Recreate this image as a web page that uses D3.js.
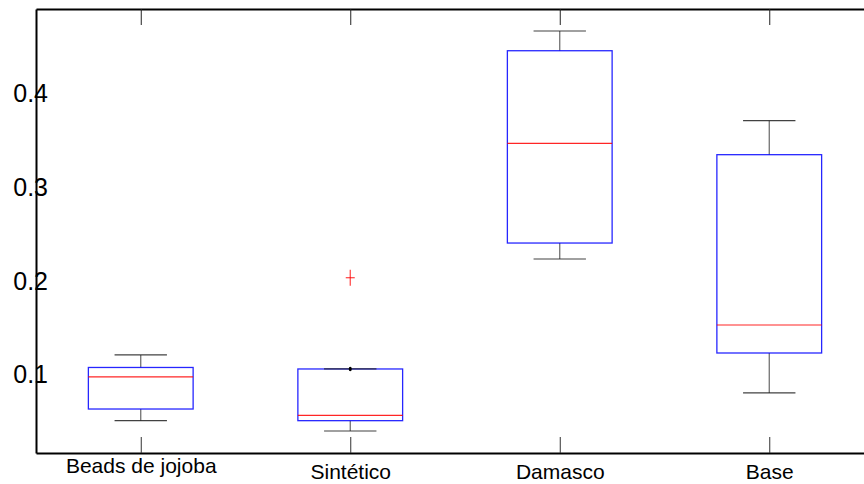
<!DOCTYPE html>
<html>
<head>
<meta charset="utf-8">
<script src="https://cdn.jsdelivr.net/npm/d3@7"></script>
<style>
  html, body { margin: 0; padding: 0; background: #fff; }
  svg { display: block; }
  text { font-family: "Liberation Sans", Arial, Helvetica, sans-serif; fill: #000; }
</style>
</head>
<body>
<svg id="chart" width="864" height="484"></svg>
<script>
// ---- data ----
const categories   = ["Beads de jojoba", "Sintético", "Damasco", "Base"];
const whiskerLow   = [0.0514, 0.0404, 0.2234, 0.0809];
const q1           = [0.0638, 0.0514, 0.2404, 0.1234];
const medians      = [0.0979, 0.0571, 0.3464, 0.1532];
const q3           = [0.1080, 0.1064, 0.4450, 0.3344];
const whiskerHigh  = [0.1213, 0.1064, 0.4660, 0.3706];
const outlierCategory = ["Sintético"];
const outlierValues   = [0.2035];
const yTicks = [0.1, 0.2, 0.3, 0.4];
const yDomain = [0.017, 0.4894];

// ---- layout ----
const svg = d3.select("#chart");
const mLeft = 36, mTop = 9, mBottom = 453, mRightEdge = 874;

const x = d3.scaleLinear().domain([0.5, categories.length + 0.5]).range([mLeft, mRightEdge]);
const y = d3.scaleLinear().domain(yDomain).range([mBottom, mTop]);
const xi = i => x(i + 1);
const boxHalf = 0.25, capHalf = 0.125;
const bw = x(1 + boxHalf) - x(1);
const cw = x(1 + capHalf) - x(1);

// top tick axis (no labels)
const topAxis = svg.append("g").attr("transform", `translate(0,${mTop})`)
  .call(d3.axisTop(x).tickValues(d3.range(1, categories.length + 1)).tickSize(-16).tickSizeOuter(0).tickFormat(""));
topAxis.select(".domain").attr("stroke", "#000").attr("stroke-width", 2);
topAxis.selectAll(".tick line").attr("stroke", "#222").attr("stroke-width", 1);

// bottom axis
const botAxis = svg.append("g").attr("transform", `translate(0,${mBottom})`)
  .call(d3.axisBottom(x).tickValues(d3.range(1, categories.length + 1))
    .tickSize(-16).tickSizeOuter(0).tickPadding(10)
    .tickFormat(d => categories[d - 1]));
botAxis.select(".domain").attr("stroke", "#000").attr("stroke-width", 2);
botAxis.selectAll(".tick line").attr("stroke", "#333").attr("stroke-width", 1);
botAxis.selectAll(".tick text")
  .attr("font-size", 21)
  .attr("font-family", "Liberation Sans, Arial, sans-serif")
  .attr("fill", "#000")
  .attr("y", 26)
  .attr("dy", d => /[gjpqy]/.test(categories[d - 1]) ? "-0.3em" : "0");

// left axis (labels straddling the axis line, no ticks)
const leftAxis = svg.append("g").attr("transform", `translate(${mLeft},0)`)
  .call(d3.axisLeft(y).tickValues(yTicks).tickSize(0).tickSizeOuter(0).tickPadding(-12)
    .tickFormat(d3.format(".1f")));
leftAxis.select(".domain").attr("stroke", "#000").attr("stroke-width", 2);
leftAxis.selectAll(".tick text")
  .attr("font-size", 25)
  .attr("font-family", "Liberation Sans, Arial, sans-serif")
  .attr("fill", "#000");

// ---- boxes ----
const g = svg.append("g");
categories.forEach((c, i) => {
  const cx = xi(i);
  // whiskers (fine dashed black, renders grey)
  g.append("line").attr("x1", cx).attr("x2", cx).attr("y1", y(q3[i])).attr("y2", y(whiskerHigh[i]))
    .attr("stroke", "#666").attr("stroke-width", 1.2);
  g.append("line").attr("x1", cx).attr("x2", cx).attr("y1", y(q1[i])).attr("y2", y(whiskerLow[i]))
    .attr("stroke", "#666").attr("stroke-width", 1.2);
  // box
  g.append("rect").attr("x", cx - bw).attr("width", 2 * bw)
    .attr("y", y(q3[i])).attr("height", y(q1[i]) - y(q3[i]))
    .attr("fill", "none").attr("stroke", "#0000ff").attr("stroke-width", 1.3).attr("opacity", 0.85);
  // caps
  [whiskerHigh[i], whiskerLow[i]].forEach(v => {
    g.append("line").attr("x1", cx - cw).attr("x2", cx + cw).attr("y1", y(v)).attr("y2", y(v))
      .attr("stroke", "#222").attr("stroke-width", 1.2).attr("opacity", 0.85);
  });
  // zero-length whisker marker
  if (whiskerHigh[i] === q3[i]) {
    g.append("ellipse").attr("cx", cx).attr("cy", y(q3[i])).attr("rx", 1.5).attr("ry", 2.2).attr("fill", "#000");
  }
  // median
  g.append("line").attr("x1", cx - bw).attr("x2", cx + bw).attr("y1", y(medians[i])).attr("y2", y(medians[i]))
    .attr("stroke", "#ff0000").attr("stroke-width", 1.2).attr("opacity", 0.85);
});

// outliers (+)
outlierValues.forEach((v, k) => {
  const cx = xi(categories.indexOf(outlierCategory[k]));
  const cy = y(v);
  g.append("line").attr("x1", cx - 4.5).attr("x2", cx + 4.5).attr("y1", cy).attr("y2", cy)
    .attr("stroke", "#ff0000").attr("stroke-width", 1.2).attr("opacity", 0.75);
  g.append("line").attr("x1", cx).attr("x2", cx).attr("y1", cy - 8).attr("y2", cy + 8)
    .attr("stroke", "#ff0000").attr("stroke-width", 1.2).attr("opacity", 0.75);
});
</script>
</body>
</html>
